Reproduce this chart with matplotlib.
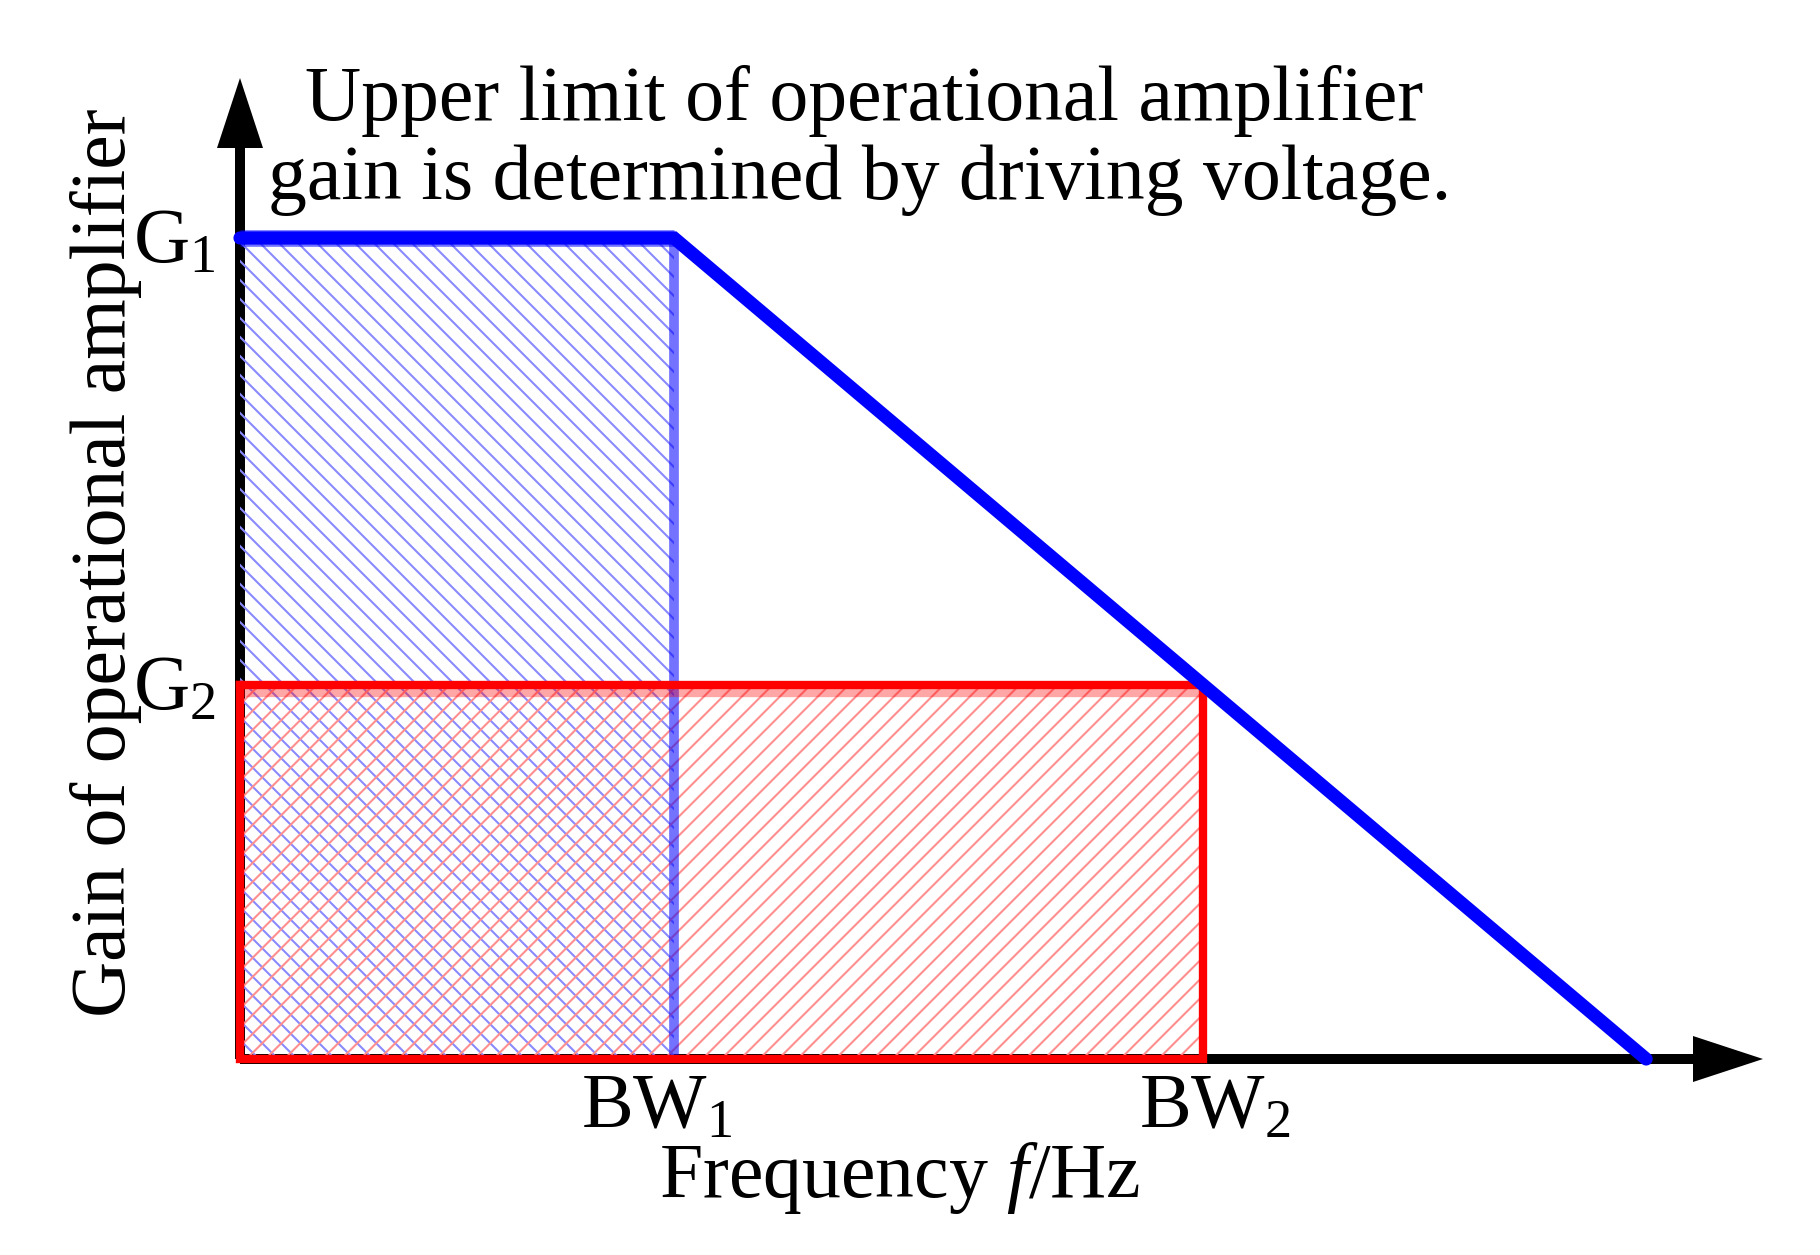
import numpy as np
import matplotlib
matplotlib.use("Agg")
import matplotlib.pyplot as plt
from matplotlib.patches import Rectangle, Polygon
from matplotlib.collections import LineCollection

plt.rcParams['font.family'] = ['Liberation Serif', 'DejaVu Serif']
plt.rcParams['mathtext.fontset'] = 'custom'
plt.rcParams['mathtext.rm'] = 'Liberation Serif'
plt.rcParams['mathtext.it'] = 'Liberation Serif:italic'

# ---- data ----
bandwidths = [1.0, 2.22]          # BW1, BW2
gains = [1.0, 0.455]              # G1, G2
f_end = 3.24                      # frequency where gain limit reaches 0
limit_freq = [0.0, bandwidths[0], f_end]
limit_gain = [gains[0], gains[0], 0.0]
bw_labels = ['BW$_1$', 'BW$_2$']
g_labels = ['G$_1$', 'G$_2$']
title_lines = ['Upper limit of operational amplifier',
               'gain is determined by driving voltage.']
xlabel = 'Frequency $\\mathit{f}$/Hz'
ylabel = 'Gain of operational amplifier'

W, H, DPI = 1820, 1255, 100
X0, Y0 = 240, 1059        # pixel position of origin
SX, SY = 434.0, 821.0     # pixels per data unit

fig = plt.figure(figsize=(W / DPI, H / DPI), dpi=DPI)
ax = fig.add_axes([0, 0, 1, 1])
ax.set_xlim(-X0 / SX, (W - X0) / SX)
ax.set_ylim(-(H - Y0) / SY, Y0 / SY)
ax.axis('off')

def px(dx):
    return dx / SX

def py(dy):
    return dy / SY

def hatch_region(x1, y1, direction, color, spacing=19.0, lw=1.5, zorder=2):
    """Draw 45-degree hatch lines (in pixel space) clipped to rectangle (0,0)-(x1,y1)."""
    clip = Rectangle((0, 0), x1, y1, facecolor='none', edgecolor='none', lw=0)
    ax.add_patch(clip)
    umax, vmax = x1 * SX, y1 * SY
    segs = []
    if direction == '\\':
        cs = np.arange(0, umax + vmax + spacing, spacing)
        for c in cs:
            segs.append([(c / SX, 0), ((c - vmax) / SX, vmax / SY)])
    else:
        cs = np.arange(-vmax - spacing, umax + spacing, spacing)
        for c in cs:
            segs.append([(c / SX, 0), ((c + vmax) / SX, vmax / SY)])
    lc = LineCollection(segs, colors=color, linewidths=lw, zorder=zorder)
    ax.add_collection(lc)
    lc.set_clip_path(clip)

# ---- axes with arrows ----
x_tip = px(1763 - X0)
y_tip = py(Y0 - 78)
ax.plot([0, x_tip - px(40)], [0, 0], color='black', lw=7.2, solid_capstyle='butt', zorder=1)
ax.plot([0, 0], [0, y_tip - py(40)], color='black', lw=7.2, solid_capstyle='butt', zorder=1)
hl, hw = 70, 23
ax.add_patch(Polygon([[x_tip, 0], [x_tip - px(hl), py(hw)], [x_tip - px(hl), -py(hw)]],
                     closed=True, facecolor='black', edgecolor='none', zorder=2))
ax.add_patch(Polygon([[0, y_tip], [px(hw), y_tip - py(hl)], [-px(hw), y_tip - py(hl)]],
                     closed=True, facecolor='black', edgecolor='none', zorder=2))

# ---- hatched regions ----
hatch_region(bandwidths[0], gains[0], '\\', '#8a8aff', zorder=2)
hatch_region(bandwidths[1], gains[1], '/', '#ff8f8f', zorder=3)

# blue rectangle edge (semi transparent)
ax.plot([bandwidths[0], bandwidths[0]], [0, gains[0]], color='#0000ff', alpha=0.55,
        lw=7, solid_capstyle='butt', zorder=4)
ax.plot([0, bandwidths[0]], [gains[0], gains[0]], color='#0000ff', alpha=0.55,
        lw=12, solid_capstyle='butt', zorder=4)

# red rectangle edges
ax.plot([0, bandwidths[1], bandwidths[1], 0, 0],
        [gains[1], gains[1], 0, 0, gains[1]], color='#ff0000', lw=6,
        solid_joinstyle='miter', zorder=5)
ax.plot([0, bandwidths[1]], [gains[1] - py(8), gains[1] - py(8)], color='#ff0000', alpha=0.35,
        lw=6, solid_capstyle='butt', zorder=5)

# gain-bandwidth limit line
ax.plot(limit_freq, limit_gain, color='#0000ff', lw=9.5, solid_capstyle='round',
        solid_joinstyle='miter', zorder=6)

# ---- text ----
fs = 56
ax.text(px(864 - X0), py(Y0 - 120), title_lines[0], ha='center', va='baseline', fontsize=fs)
ax.text(px(860 - X0), py(Y0 - 199), title_lines[1], ha='center', va='baseline', fontsize=fs)

bw_offsets = [-17, 12]
for bw, lab, off in zip(bandwidths, bw_labels, bw_offsets):
    ax.text(bw + px(off), py(Y0 - 1127), lab, ha='center', va='baseline', fontsize=fs)
for g, lab in zip(gains, g_labels):
    ax.text(px(216 - X0), g - py(24), lab, ha='right', va='baseline', fontsize=fs)

ax.text(px(900 - X0), py(Y0 - 1197), xlabel, ha='center', va='baseline', fontsize=fs)
ax.text(px(106 - X0), py(Y0 - 563), ylabel, ha='center', va='center', rotation=90, fontsize=fs)

fig.savefig('out.png', dpi=DPI)
